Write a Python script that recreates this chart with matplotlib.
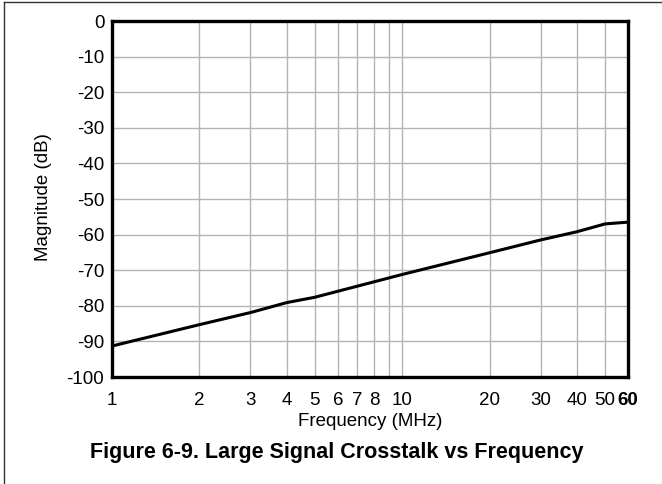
import matplotlib
matplotlib.use("Agg")
import matplotlib.pyplot as plt
from matplotlib.lines import Line2D

freq = [1, 2, 3, 4, 5, 10, 20, 30, 40, 50, 60]
mag = [-91.3, -85.3, -81.9, -79.1, -77.6, -71.2, -65.1, -61.5, -59.2, -57.0, -56.5]

xticks = [1, 2, 3, 4, 5, 6, 7, 8, 10, 20, 30, 40, 50, 60]
xticklabels = ["1", "2", "3", "4", "5", "6", "7", "8", "10", "20", "30", "40", "50", "60"]
xgrid = [2, 3, 4, 5, 6, 7, 8, 9, 10, 20, 30, 40, 50]
yticks = [0, -10, -20, -30, -40, -50, -60, -70, -80, -90, -100]

plt.rcParams['font.family'] = ['Liberation Sans', 'DejaVu Sans']

W, H = 662, 484
FS = 13.5
fig = plt.figure(figsize=(W / 100, H / 100), dpi=100)
ax = fig.add_axes([112 / W, 1 - 377 / H, (628 - 112) / W, (377 - 21) / H])

ax.set_xscale('log')
ax.set_xlim(1, 60)
ax.set_ylim(-100, 0)

for g in xgrid:
    ax.axvline(g, color='#b4b4b4', lw=1.0, zorder=1)
for g in yticks[1:-1]:
    ax.axhline(g, color='#b4b4b4', lw=1.0, zorder=1)

ax.plot(freq, mag, color='black', lw=2.2, zorder=3)

ax.xaxis.set_major_locator(matplotlib.ticker.FixedLocator(xticks))
ax.xaxis.set_minor_locator(matplotlib.ticker.NullLocator())
ax.set_xticklabels(xticklabels)
ax.set_yticks(yticks)
ax.set_yticklabels([str(v) for v in yticks])
ax.tick_params(axis='both', length=0, labelsize=FS)
ax.tick_params(axis='x', pad=11)
ax.tick_params(axis='y', pad=5.5)
ax.get_xticklabels()[-1].set_fontweight('bold')

for s in ax.spines.values():
    s.set_linewidth(2.4)
    s.set_color('black')

fig.text(370 / W, 1 - 426 / H, 'Frequency (MHz)', fontsize=FS, ha='center', va='baseline')
fig.text(43 / W, 1 - 197 / H, 'Magnitude (dB)', fontsize=FS, ha='center', va='center',
         rotation=90)

fig.text(336.5 / W, 1 - 458 / H, 'Figure 6-9. Large Signal Crosstalk vs Frequency',
         fontsize=15.5, fontweight='bold', ha='center', va='baseline')

fig.add_artist(Line2D([4 / W, 1], [1 - 2 / H, 1 - 2 / H], transform=fig.transFigure,
                      color='#333333', lw=1.0))
fig.add_artist(Line2D([4 / W, 4 / W], [0, 1 - 2 / H], transform=fig.transFigure,
                      color='#333333', lw=1.0))

fig.savefig('out.png', dpi=100)
